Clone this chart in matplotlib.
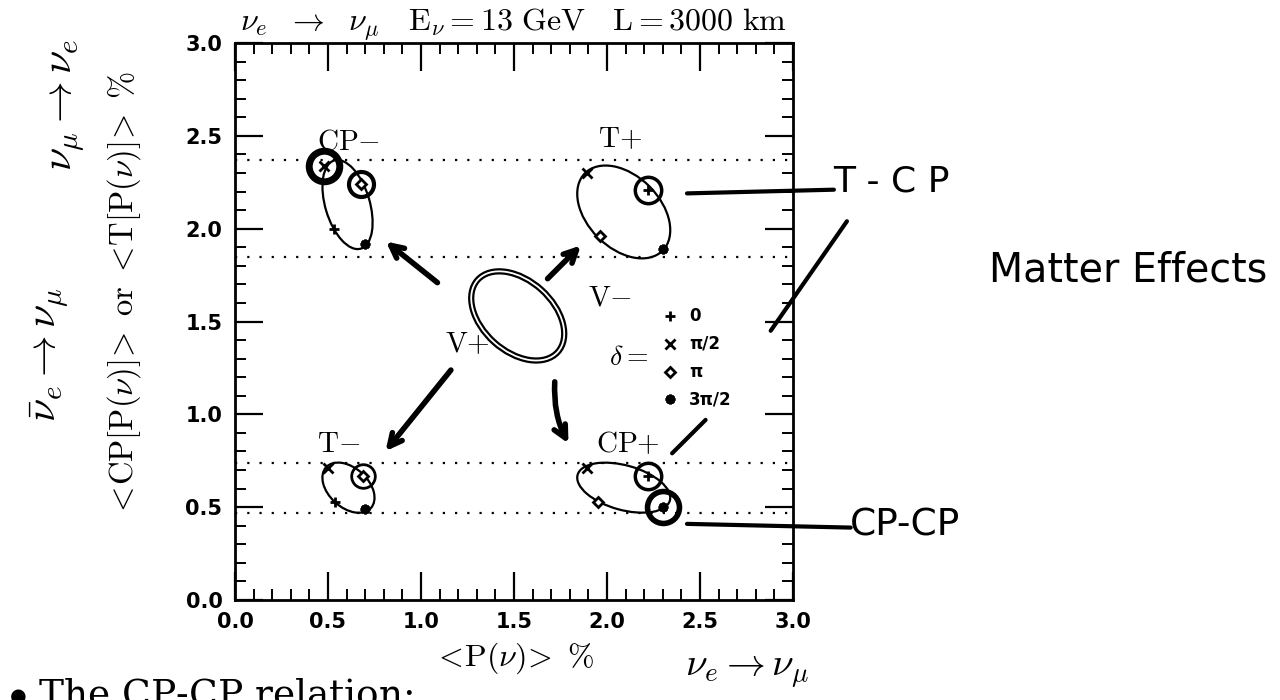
import matplotlib
matplotlib.use("Agg")
import matplotlib.pyplot as plt
from matplotlib.patches import Ellipse
from matplotlib.ticker import MultipleLocator, FormatStrFormatter

plt.rcParams['mathtext.fontset'] = 'cm'

# points for delta = 0, pi/2, pi, 3pi/2 on each ellipse
tp_x = [2.22, 1.89, 1.96, 2.30]
tp_y = [2.21, 2.30, 1.96, 1.89]
cpp_x = [2.22, 1.89, 1.95, 2.30]
cpp_y = [0.67, 0.71, 0.53, 0.50]
cpm_x = [0.53, 0.48, 0.68, 0.70]
cpm_y = [2.00, 2.34, 2.24, 1.92]
tm_x = [0.54, 0.50, 0.69, 0.70]
tm_y = [0.53, 0.71, 0.67, 0.49]

# ellipses: centre x, centre y, width, height, angle
ell_names = ['V', 'T+', 'CP+', 'CP-', 'T-']
ell_cx = [1.52, 2.09, 2.09, 0.605, 0.61]
ell_cy = [1.53, 2.09, 0.605, 2.13, 0.605]
ell_w = [0.58, 0.59, 0.515, 0.496, 0.326]
ell_h = [0.38, 0.39, 0.24, 0.239, 0.213]
ell_ang = [137.9, 135.0, 164.4, 106.7, 137.6]

# dotted horizontal lines
hlines = [2.37, 1.85, 0.74, 0.47]

# circled points (handwritten)
circ_x = [2.22, 2.22, 2.30, 0.48, 0.68, 0.69]
circ_y = [2.21, 0.67, 0.50, 2.34, 2.24, 0.67]
circ_size = [19, 19, 23, 22, 18, 17]
circ_lw = [2.5, 2.5, 4.0, 5.0, 3.0, 2.0]

# ellipse labels
lab_text = [r'$\mathrm{CP}{-}$', r'$\mathrm{T}{+}$', r'$\mathrm{T}{-}$', r'$\mathrm{CP}{+}$',
            r'$\mathrm{V}{-}$', r'$\mathrm{V}{+}$']
lab_x = [0.44, 1.95, 0.44, 1.94, 1.90, 1.13]
lab_y = [2.47, 2.48, 0.84, 0.84, 1.63, 1.38]

# legend
leg_markers = ['+', 'x', 'D', (8, 2, 0)]
leg_text = ['0', 'π/2', 'π', '3π/2']
leg_y = [1.53, 1.38, 1.23, 1.08]

# handwritten arrows, tail -> head
arr_x0 = [1.10, 1.67, 1.17, 1.72]
arr_y0 = [1.70, 1.72, 1.25, 1.19]
arr_x1 = [0.80, 1.87, 0.80, 1.80]
arr_y1 = [1.94, 1.92, 0.79, 0.83]
arr_rad = [0.0, 0.0, 0.0, 0.15]

# handwritten strokes (data units, beyond the frame)
pen_x = [[2.43, 3.22], [3.29, 2.88], [2.53, 2.35], [2.43, 3.31]]
pen_y = [[2.19, 2.21], [2.04, 1.45], [0.97, 0.79], [0.41, 0.39]]

fig = plt.figure(figsize=(12.8, 7), dpi=100)
ax = fig.add_axes([235 / 1280, 100 / 700, 558 / 1280, 557 / 700])
ax.set_xlim(0, 3)
ax.set_ylim(0, 3)

for y in hlines:
    ax.plot([0, 3], [y, y], color='black', lw=1.6, linestyle=(0, (1, 4.5)))

for i, name in enumerate(ell_names):
    e = Ellipse((ell_cx[i], ell_cy[i]), ell_w[i], ell_h[i], angle=ell_ang[i],
                fill=False, color='black', lw=4.5 if name == 'V' else 1.6)
    ax.add_patch(e)
    if name == 'V':
        ax.add_patch(Ellipse((ell_cx[i], ell_cy[i]), ell_w[i], ell_h[i], angle=ell_ang[i],
                             fill=False, color='white', lw=1.3))

for xs, ys in [(tp_x, tp_y), (cpp_x, cpp_y), (cpm_x, cpm_y), (tm_x, tm_y)]:
    for k in range(4):
        m = leg_markers[k]
        ax.plot(xs[k], ys[k], marker=m, color='black', ms=7 if m != 'D' else 5,
                mew=2, mfc='white' if m == 'D' else 'black', ls='none')

for i in range(len(circ_x)):
    ax.plot(circ_x[i], circ_y[i], marker='o', ms=circ_size[i], mfc='none',
            mec='black', mew=circ_lw[i])

for i in range(len(lab_text)):
    ax.text(lab_x[i], lab_y[i], lab_text[i], fontsize=21, ha='left', va='center')

for k in range(4):
    m = leg_markers[k]
    ax.plot(2.34, leg_y[k], marker=m, color='black', ms=7 if m != 'D' else 5,
            mew=2, mfc='white' if m == 'D' else 'black', ls='none')
    ax.text(2.44, leg_y[k], leg_text[k], fontsize=12, fontweight='bold',
            ha='left', va='center')
ax.text(2.22, 1.31, r'$\delta{=}$', fontsize=20, ha='right', va='center')

for i in range(4):
    ax.annotate('', xy=(arr_x1[i], arr_y1[i]), xytext=(arr_x0[i], arr_y0[i]),
                arrowprops=dict(arrowstyle='->,head_length=0.9,head_width=0.45', lw=4,
                                color='black',
                                connectionstyle='arc3,rad=%s' % arr_rad[i]))

for xs, ys in zip(pen_x, pen_y):
    ax.plot(xs, ys, color='black', lw=3, clip_on=False, solid_capstyle='round')

ax.xaxis.set_major_locator(MultipleLocator(0.5))
ax.yaxis.set_major_locator(MultipleLocator(0.5))
ax.xaxis.set_minor_locator(MultipleLocator(0.1))
ax.yaxis.set_minor_locator(MultipleLocator(0.1))
ax.xaxis.set_major_formatter(FormatStrFormatter('%.1f'))
ax.yaxis.set_major_formatter(FormatStrFormatter('%.1f'))
ax.tick_params(which='both', direction='in', top=True, right=True)
ax.tick_params(which='major', length=20, width=1.6, pad=9)
ax.tick_params(which='minor', length=8, width=1.4)
for lab in ax.get_xticklabels() + ax.get_yticklabels():
    lab.set_fontweight('bold')
    lab.set_fontsize(15)
for s in ax.spines.values():
    s.set_linewidth(2)

ax.set_title(r'$\nu_e\ \ \rightarrow\ \ \nu_\mu\ \ \ \mathrm{E}_\nu{=}\mathrm{13\ GeV}\ \ \ \mathrm{L{=}3000\ km}$',
             fontsize=23, pad=2)
ax.set_xlabel(r'$\mathrm{<\!P(}\nu\mathrm{)\!>\ \%}$', fontsize=23, labelpad=6)
ax.set_ylabel(r'$\mathrm{<\!CP[P(}\nu\mathrm{)]\!>\ or\ <\!T[P(}\nu\mathrm{)]\!>\ \%}$',
              fontsize=23.5)
ax.yaxis.set_label_coords(-0.165, 0.55)

# handwritten notes
fig.text(833 / 1280, 1 - 182 / 700, 'T - C P', fontsize=26, va='center', ha='left')
fig.text(850 / 1280, 1 - 526 / 700, 'CP-CP', fontsize=27, va='center', ha='left')
fig.text(1128 / 1280, 1 - 270 / 700, 'Matter Effects', fontsize=28.5,
         va='center', ha='center')
fig.text(65 / 1280, 1 - 105 / 700, r'$\nu_\mu \rightarrow \nu_e$', fontsize=30,
         rotation=90, va='center', ha='center')
fig.text(50 / 1280, 1 - 355 / 700, r'$\bar{\nu}_e \rightarrow \nu_\mu$', fontsize=30,
         rotation=90, va='center', ha='center')
fig.text(685 / 1280, 1 - 672 / 700, r'$\nu_e \rightarrow \nu_\mu$', fontsize=28,
         va='center', ha='left')
fig.text(8 / 1280, -6 / 700, r'$\bullet$ The CP-CP relation:', fontsize=27,
         family='DejaVu Serif', va='baseline', ha='left')

fig.savefig('out.png', dpi=100)
